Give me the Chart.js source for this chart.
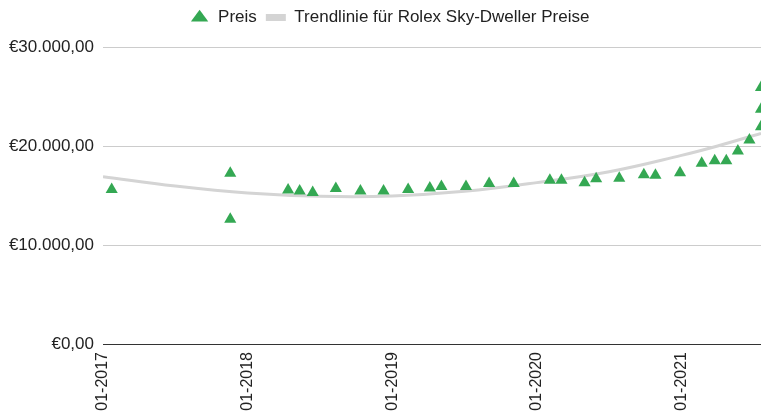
<!DOCTYPE html>
<html>
<head>
<meta charset="utf-8">
<script src="https://cdn.jsdelivr.net/npm/chart.js@4/dist/chart.umd.min.js"></script>
<style>
  html, body { margin: 0; padding: 0; background: #fff; overflow: hidden; }
  #wrap { width: 761px; height: 416px; }
</style>
</head>
<body>
<div id="wrap"><canvas id="myChart"></canvas></div>
<script>
// dates as decimal years, prices in EUR
const priceDates = [2017.06, 2017.88, 2017.88, 2018.28, 2018.36, 2018.45, 2018.61, 2018.78, 2018.94,
    2019.11, 2019.26, 2019.34, 2019.51, 2019.67, 2019.84, 2020.09, 2020.17, 2020.33, 2020.41,
    2020.57, 2020.74, 2020.82, 2020.99, 2021.14, 2021.23, 2021.31, 2021.39, 2021.47,
    2021.55, 2021.55, 2021.55];
const prices = [15600, 17250, 12600, 15550, 15450, 15300, 15700, 15450, 15450,
    15600, 15750, 15900, 15900, 16200, 16200, 16550, 16550, 16300, 16700,
    16750, 17100, 17050, 17300, 18250, 18500, 18500, 19500, 20600,
    21950, 23700, 25900];

const trendDates = [2017.0, 2017.5, 2018.0, 2018.5, 2019.0, 2019.5, 2020.0, 2020.5, 2021.0, 2021.25, 2021.55];
const trendValues = [16900, 15950, 15250, 14920, 14950, 15420, 16300, 17400, 19050, 20000, 21280];

const yearTicks = [2017, 2018, 2019, 2020, 2021];

const priceSeries = priceDates.map((d, i) => ({x: d, y: prices[i]}));
const trendSeries = trendDates.map((d, i) => ({x: d, y: trendValues[i]}));

const euro = new Intl.NumberFormat('de-DE', {minimumFractionDigits: 2, maximumFractionDigits: 2});

Chart.defaults.font.family = '"Liberation Sans", Arial, sans-serif';
Chart.defaults.font.size = 17;
Chart.defaults.color = '#222';

// more room under the legend, and nudge it a little to the right
const legendSpace = {
    id: 'legendSpace',
    beforeInit(chart) {
        const fit = chart.legend.fit;
        chart.legend.fit = function() {
            fit.bind(chart.legend)();
            this.height += 11;
        };
    },
    afterLayout(chart) {
        chart.legend.left += 9;
        chart.legend.right += 9;
    }
};

const myChart = new Chart('myChart', {
    type: 'scatter',
    data: {
        datasets: [{
            label: 'Preis',
            data: priceSeries,
            pointStyle: 'triangle',
            pointRadius: 7,
            backgroundColor: '#34a853',
            borderColor: '#34a853',
            borderWidth: 0,
            order: 0
        }, {
            label: 'Trendlinie für Rolex Sky-Dweller Preise',
            data: trendSeries,
            showLine: true,
            tension: 0.4,
            pointRadius: 0,
            borderColor: '#d4d4d4',
            backgroundColor: '#d4d4d4',
            borderWidth: 3,
            order: 1
        }]
    },
    plugins: [legendSpace],
    options: {
        responsive: true,
        maintainAspectRatio: false,
        animation: false,
        layout: { padding: 0, autoPadding: false },
        plugins: {
            tooltip: { enabled: false },
            legend: {
                position: 'top',
                labels: {
                    usePointStyle: true,
                    boxHeight: 11,
                    pointStyleWidth: 20,
                    padding: 9,
                    color: '#222',
                    generateLabels: function(chart) {
                        const items = Chart.defaults.plugins.legend.labels.generateLabels(chart);
                        items.forEach(function(item) {
                            if (item.datasetIndex === 1) {
                                item.pointStyle = 'line';
                                item.lineWidth = 7;
                                item.strokeStyle = '#d4d4d4';
                            } else {
                                item.pointStyle = 'triangle';
                                item.lineWidth = 0;
                            }
                        });
                        return items;
                    }
                }
            }
        },
        scales: {
            x: {
                type: 'linear',
                min: 2017,
                max: 2021.55,
                afterBuildTicks: function(scale) {
                    scale.ticks = yearTicks.map(v => ({value: v}));
                },
                afterFit: function(scale) {
                    scale.height = 72;
                },
                grid: { display: false, drawTicks: false },
                border: { display: true, color: '#333', width: 1 },
                ticks: {
                    minRotation: 90,
                    maxRotation: 90,
                    padding: 8,
                    color: '#222',
                    font: { size: 16 },
                    callback: function(v) { return '01-' + v; }
                }
            },
            y: {
                min: 0,
                max: 30000,
                afterFit: function(scale) { scale.width = 103; },
                border: { display: false },
                grid: {
                    drawTicks: false,
                    color: function(ctx) { return ctx.tick && ctx.tick.value === 0 ? '#333' : '#cccccc'; }
                },
                ticks: {
                    stepSize: 10000,
                    padding: 9,
                    color: '#222',
                    callback: function(v) { return '€' + euro.format(v); }
                }
            }
        }
    }
});
</script>
</body>
</html>
